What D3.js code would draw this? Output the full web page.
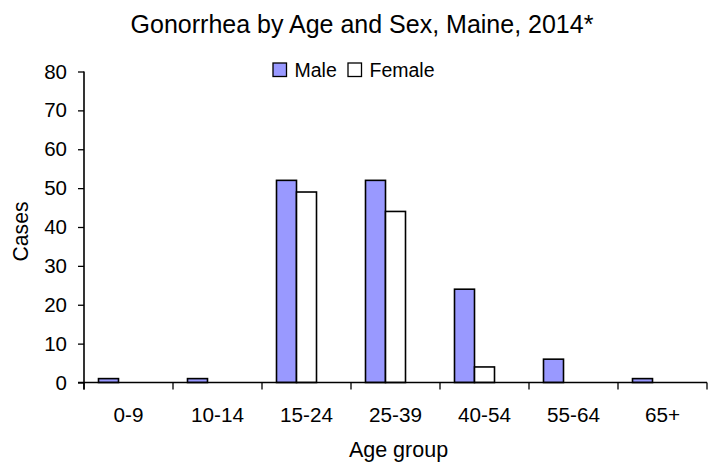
<!DOCTYPE html>
<html><head><meta charset="utf-8">
<script src="https://cdn.jsdelivr.net/npm/d3@7"></script>
<style>body{margin:0;background:#fff}svg{display:block;font-family:"Liberation Sans",Arial,sans-serif}</style>
</head><body><svg id="c" width="715" height="464"></svg>
<script>
const categories = ["0-9","10-14","15-24","25-39","40-54","55-64","65+"];
const maleValues = [1,1,52,52,24,6,1];
const femaleValues = [0,0,49,44,4,0,0];
const seriesNames = ["Male","Female"];
const seriesColors = ["#9999FF","#FFFFFF"];
const yTicks = [0,10,20,30,40,50,60,70,80];

const svg = d3.select("#c");
const m = {l:84};
const x0 = d3.scaleBand().domain(categories).range([m.l, 707]).padding(0);
// Excel-style cluster with three slots (third slot empty)
const x1 = d3.scaleBand().domain([...seriesNames, "_"]).range([0, x0.bandwidth()]).paddingInner(0).paddingOuter(0.725);
const y = d3.scaleLinear().domain([0,80]).range([382.5, 71.5]);

const data = categories.map((c,i)=>({cat:c, vals:[maleValues[i], femaleValues[i]]}));

const g = svg.append("g");
data.forEach(d=>{
  d.vals.forEach((v,j)=>{
    if (v<=0) return;
    g.append("rect")
      .attr("x", x0(d.cat)+x1(seriesNames[j]))
      .attr("y", y(v))
      .attr("width", x1.bandwidth())
      .attr("height", y(0)-y(v))
      .attr("fill", seriesColors[j])
      .attr("stroke", "#000").attr("stroke-width", 1.6);
  });
});

// y axis
const ya = svg.append("g").attr("transform", `translate(${m.l},0)`)
  .call(d3.axisLeft(y).tickValues(yTicks).tickSize(6).tickPadding(11));
ya.select(".domain").attr("d", `M0,${y(80)}V${y(0)+7}`).attr("stroke","#000").attr("stroke-width",1.6);
ya.selectAll(".tick line").attr("stroke","#000").attr("stroke-width",1.3);
ya.selectAll(".tick text").attr("font-size",20.5).attr("fill","#000").attr("font-family",'"Liberation Sans",Arial,sans-serif');

// x axis
const xa = svg.append("g").attr("transform", `translate(0,${y(0)})`);
xa.append("line").attr("x1", m.l-6).attr("x2", 707).attr("y1",0).attr("y2",0).attr("stroke","#000").attr("stroke-width",1.6);
const xt = [...categories.map(c=>x0(c)), x0(categories[categories.length-1])+x0.bandwidth()];
xt.forEach(px=>{
  xa.append("line").attr("x1",px).attr("x2",px).attr("y1",0).attr("y2",7).attr("stroke","#000").attr("stroke-width",1.3);
});
categories.forEach(c=>{
  xa.append("text").attr("x", x0(c)+x0.bandwidth()/2).attr("y", 39.2)
    .attr("text-anchor","middle").attr("font-size",20.7).attr("fill","#000").text(c);
});

// title
svg.append("text").attr("x", 362).attr("y", 33).attr("text-anchor","middle")
  .attr("font-size",25).attr("fill","#000").text("Gonorrhea by Age and Sex, Maine, 2014*");
// axis titles
svg.append("text").attr("x", 398.5).attr("y", 456.5).attr("text-anchor","middle")
  .attr("font-size",21.5).attr("fill","#000").text("Age group");
svg.append("text").attr("transform","translate(28,231.5) rotate(-90)").attr("text-anchor","middle")
  .attr("font-size",21.2).attr("fill","#000").text("Cases");

// legend
const legX = [273, 348];
seriesNames.forEach((s,j)=>{
  svg.append("rect").attr("x", legX[j]).attr("y", 63).attr("width", 13.5).attr("height", 13.5)
    .attr("fill", seriesColors[j]).attr("stroke","#000").attr("stroke-width",1.3);
  svg.append("text").attr("x", legX[j]+21.5).attr("y", 77).attr("font-size",19.5).attr("fill","#000").text(s);
});
</script></body></html>
